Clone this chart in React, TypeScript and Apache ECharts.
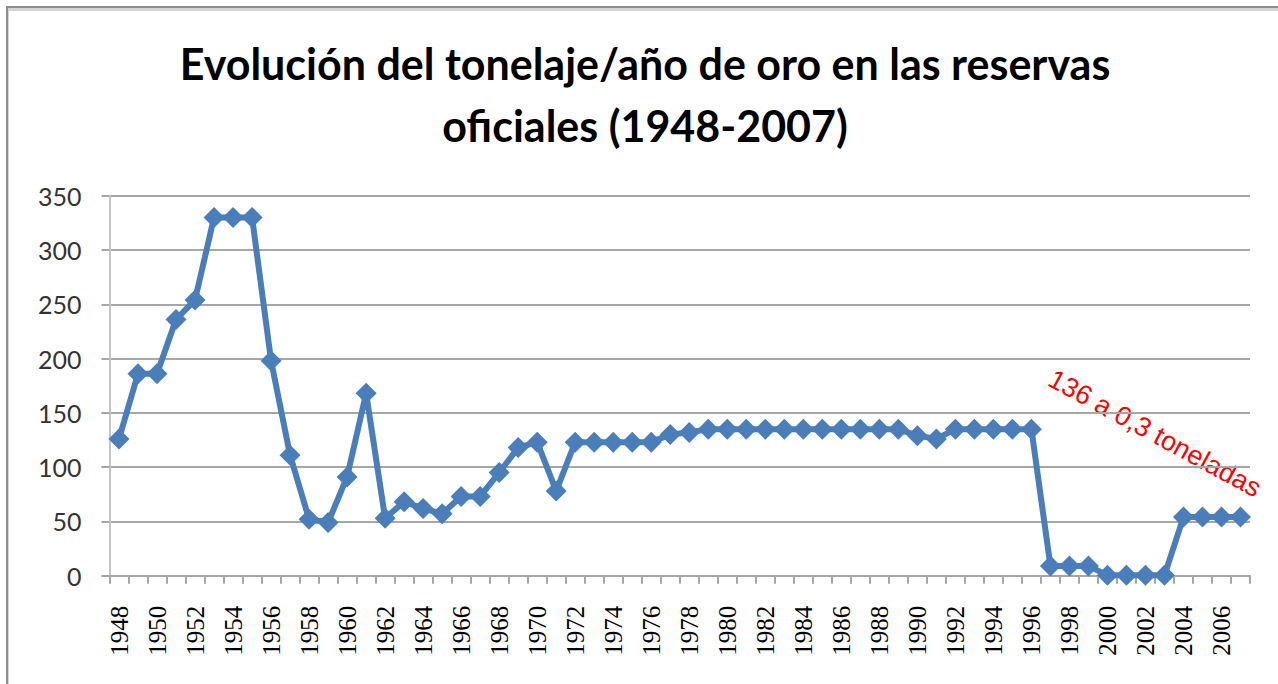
import React, { useEffect, useRef } from "react";
import * as echarts from "echarts";

const years: string[] = [
  "1948","1949","1950","1951","1952","1953","1954","1955","1956","1957",
  "1958","1959","1960","1961","1962","1963","1964","1965","1966","1967",
  "1968","1969","1970","1971","1972","1973","1974","1975","1976","1977",
  "1978","1979","1980","1981","1982","1983","1984","1985","1986","1987",
  "1988","1989","1990","1991","1992","1993","1994","1995","1996","1997",
  "1998","1999","2000","2001","2002","2003","2004","2005","2006","2007",
];

const tonnes: number[] = [
  126, 186, 186, 236, 254, 330, 330, 330, 198, 111,
  52, 49, 91, 168, 53, 68, 62, 57, 73, 73,
  95, 118, 123, 78, 123, 123, 123, 123, 123, 130,
  132, 135, 135, 135, 135, 135, 135, 135, 135, 135,
  135, 135, 129, 126, 135, 135, 135, 135, 135, 9,
  9, 9, 0.3, 0.3, 0.3, 0.3, 54, 54, 54, 54,
];

const titleLines: string[] = [
  "Evolución del tonelaje/año de oro en las reservas",
  "oficiales (1948-2007)",
];
const annotation = "136 a 0,3 toneladas";

export default function App() {
  const ref = useRef<HTMLDivElement>(null);
  useEffect(() => {
    if (!ref.current) return;
    const chart = echarts.init(ref.current, null, { renderer: "svg" });
    chart.setOption({
      animation: false,
      backgroundColor: "#ffffff",
      grid: { left: 109.5, right: 28, top: 195.7, bottom: 108.3, containLabel: false },
      xAxis: {
        type: "category",
        data: years,
        boundaryGap: true,
        axisLine: { lineStyle: { color: "#a6a6a6", width: 2 } },
        axisTick: { show: true, interval: 0, length: 8, lineStyle: { color: "#a6a6a6", width: 2 } },
        axisLabel: {
          interval: 1,
          rotate: 90,
          margin: 30,
          fontFamily: "Liberation Serif",
          fontSize: 25,
          color: "#000000",
        },
      },
      yAxis: {
        type: "value",
        min: 0,
        max: 350,
        interval: 50,
        axisLine: { show: true, lineStyle: { color: "#c4c4c4", width: 2 } },
        axisTick: { show: true, length: 8, lineStyle: { color: "#a6a6a6", width: 2 } },
        splitLine: { show: true, lineStyle: { color: "#a6a6a6", width: 2 } },
        axisLabel: {
          margin: 28,
          fontFamily: "Lato",
          fontSize: 25,
          color: "#333333",
        },
      },
      series: [
        {
          type: "line",
          data: tonnes,
          symbol: "diamond",
          symbolSize: 21,
          showAllSymbol: true,
          lineStyle: { color: "#4a7ebb", width: 6 },
          itemStyle: { color: "#4a7ebb" },
          clip: false,
        },
      ],
      graphic: [
        { type: "rect", shape: { x: 6, y: 6, width: 1272, height: 2 }, style: { fill: "#8e8e8e" }, silent: true },
        { type: "rect", shape: { x: 8, y: 8, width: 1270, height: 3 }, style: { fill: "#d4d4d4" }, silent: true },
        { type: "rect", shape: { x: 6, y: 6, width: 2, height: 678 }, style: { fill: "#8e8e8e" }, silent: true },
        { type: "rect", shape: { x: 8, y: 8, width: 1, height: 676 }, style: { fill: "#d4d4d4" }, silent: true },
        {
          type: "text",
          x: 645,
          y: 42,
          style: {
            text: titleLines[0],
            font: "bold 43px Lato",
            fill: "#000000",
            align: "center",
            verticalAlign: "top",
          },
        },
        {
          type: "text",
          x: 645,
          y: 104,
          style: {
            text: titleLines[1],
            font: "bold 43px Lato",
            fill: "#000000",
            align: "center",
            verticalAlign: "top",
          },
        },
        {
          type: "text",
          x: 1057,
          y: 365,
          rotation: (-28.5 * Math.PI) / 180,
          style: {
            text: annotation,
            font: "27px 'Liberation Sans'",
            fill: "#ff0000",
            align: "left",
            verticalAlign: "top",
          },
        },
      ],
    });
    return () => chart.dispose();
  }, []);
  return (
    <div
      ref={ref}
      style={{ position: "absolute", left: 0, top: 0, width: 1278, height: 684 }}
    />
  );
}
